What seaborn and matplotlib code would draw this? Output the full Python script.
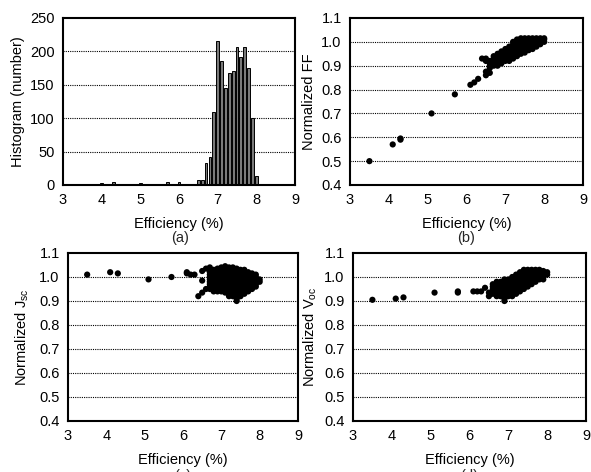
import matplotlib
matplotlib.use("Agg")
import matplotlib.pyplot as plt
import seaborn as sns
import numpy as np
import pandas as pd

# ---------------- data ----------------
hist_centers = [4.0, 4.3, 5.0, 5.7, 6.0, 6.1, 6.3, 6.5, 6.6, 6.7, 6.8, 6.9,
                7.0, 7.1, 7.2, 7.3, 7.4, 7.5, 7.6, 7.7, 7.8, 7.9, 8.0]
hist_counts = [3, 4, 3, 4, 4, 2, 2, 7, 8, 33, 42, 110,
               216, 186, 145, 168, 171, 207, 191, 207, 175, 100, 14]

ff_out_x = [3.5, 4.1, 4.3, 4.3, 5.1, 5.7, 6.1, 6.2, 6.3, 6.4, 6.5, 6.5, 6.5, 6.5, 6.6]
ff_out_y = [0.50, 0.57, 0.595, 0.59, 0.70, 0.78, 0.82, 0.83, 0.845, 0.93, 0.92, 0.86, 0.875, 0.93, 0.87]
ff_cluster = [
    (6.6, [0.89, 0.90, 0.91, 0.92]),
    (6.7, [0.90, 0.91, 0.92, 0.93, 0.94]),
    (6.8, [0.90, 0.91, 0.92, 0.93, 0.94, 0.95]),
    (6.9, [0.91, 0.92, 0.93, 0.94, 0.95, 0.96]),
    (7.0, [0.92, 0.93, 0.94, 0.95, 0.96, 0.97]),
    (7.1, [0.92, 0.93, 0.94, 0.95, 0.96, 0.97, 0.98]),
    (7.2, [0.93, 0.94, 0.95, 0.96, 0.97, 0.98, 0.99, 1.00]),
    (7.3, [0.94, 0.95, 0.96, 0.97, 0.98, 0.99, 1.00, 1.01]),
    (7.4, [0.95, 0.96, 0.97, 0.98, 0.99, 1.00, 1.01, 1.015]),
    (7.5, [0.955, 0.965, 0.975, 0.985, 0.995, 1.005, 1.015]),
    (7.6, [0.965, 0.975, 0.985, 0.995, 1.005, 1.015]),
    (7.7, [0.97, 0.98, 0.99, 1.00, 1.01, 1.015]),
    (7.8, [0.98, 0.99, 1.00, 1.01, 1.015]),
    (7.9, [0.99, 1.00, 1.01, 1.015]),
    (8.0, [1.00, 1.01, 1.015]),
]

jsc_out_x = [3.5, 4.1, 4.3, 5.1, 5.7, 6.1, 6.1, 6.2, 6.3, 6.4, 6.5, 6.5, 6.5, 6.6, 6.7, 6.6]
jsc_out_y = [1.01, 1.02, 1.015, 0.99, 1.0, 1.02, 1.015, 1.01, 1.01, 0.92, 0.985, 1.025, 0.935, 1.035, 1.04, 0.95]
jsc_cluster = [
    (6.7, [0.95, 0.96, 0.97, 0.98, 0.99, 1.00, 1.01, 1.02]),
    (6.8, [0.94, 0.95, 0.96, 0.97, 0.98, 0.99, 1.00, 1.01, 1.02, 1.03]),
    (6.9, [0.94, 0.95, 0.96, 0.97, 0.98, 0.99, 1.00, 1.01, 1.02, 1.035]),
    (7.0, [0.94, 0.95, 0.96, 0.97, 0.98, 0.99, 1.00, 1.01, 1.02, 1.03, 1.04]),
    (7.1, [0.935, 0.95, 0.96, 0.97, 0.98, 0.99, 1.00, 1.01, 1.02, 1.03, 1.045]),
    (7.2, [0.92, 0.93, 0.94, 0.95, 0.96, 0.97, 0.98, 0.99, 1.00, 1.01, 1.02, 1.03, 1.04]),
    (7.3, [0.92, 0.93, 0.94, 0.95, 0.96, 0.97, 0.98, 0.99, 1.00, 1.01, 1.02, 1.03, 1.04]),
    (7.4, [0.90, 0.91, 0.92, 0.93, 0.94, 0.95, 0.96, 0.97, 0.98, 0.99, 1.00, 1.01, 1.02, 1.035]),
    (7.5, [0.92, 0.93, 0.94, 0.95, 0.96, 0.97, 0.98, 0.99, 1.00, 1.01, 1.02, 1.03]),
    (7.6, [0.93, 0.94, 0.95, 0.96, 0.97, 0.98, 0.99, 1.00, 1.01, 1.02, 1.03]),
    (7.7, [0.94, 0.95, 0.96, 0.97, 0.98, 0.99, 1.00, 1.01, 1.02]),
    (7.8, [0.95, 0.96, 0.97, 0.98, 0.99, 1.00, 1.01, 1.015]),
    (7.9, [0.96, 0.97, 0.98, 0.99, 1.00, 1.01]),
    (8.0, [0.98, 0.99]),
]

voc_out_x = [3.5, 4.1, 4.3, 5.1, 5.7, 5.7, 6.1, 6.2, 6.3, 6.4, 6.5, 6.5]
voc_out_y = [0.905, 0.91, 0.915, 0.935, 0.935, 0.94, 0.94, 0.94, 0.94, 0.955, 0.92, 0.935]
voc_cluster = [
    (6.6, [0.93, 0.94, 0.95, 0.96, 0.97]),
    (6.7, [0.92, 0.93, 0.94, 0.95, 0.96, 0.97, 0.98]),
    (6.8, [0.92, 0.93, 0.94, 0.95, 0.96, 0.97, 0.98]),
    (6.9, [0.90, 0.91, 0.92, 0.93, 0.94, 0.95, 0.96, 0.97, 0.98, 0.99]),
    (7.0, [0.92, 0.93, 0.94, 0.95, 0.96, 0.97, 0.98, 0.99]),
    (7.1, [0.92, 0.93, 0.94, 0.95, 0.96, 0.97, 0.98, 0.99, 1.00]),
    (7.2, [0.93, 0.94, 0.95, 0.96, 0.97, 0.98, 0.99, 1.00, 1.01]),
    (7.3, [0.94, 0.95, 0.96, 0.97, 0.98, 0.99, 1.00, 1.01, 1.02]),
    (7.4, [0.95, 0.96, 0.97, 0.98, 0.99, 1.00, 1.01, 1.02, 1.03]),
    (7.5, [0.96, 0.97, 0.98, 0.99, 1.00, 1.01, 1.02, 1.03]),
    (7.6, [0.97, 0.98, 0.99, 1.00, 1.01, 1.02, 1.03]),
    (7.7, [0.98, 0.99, 1.00, 1.01, 1.02, 1.03]),
    (7.8, [0.99, 1.00, 1.01, 1.02, 1.03]),
    (7.9, [0.99, 1.00, 1.01, 1.02, 1.025]),
    (8.0, [1.01, 1.02]),
]

x_ticks = [3, 4, 5, 6, 7, 8, 9]
hist_yticks = [0, 50, 100, 150, 200, 250]
norm_yticks = [0.4, 0.5, 0.6, 0.7, 0.8, 0.9, 1.0, 1.1]


def to_frame(out_x, out_y, cluster):
    xs = list(out_x)
    ys = list(out_y)
    for cx, col in cluster:
        for cy in col:
            xs.append(cx)
            ys.append(cy)
    return pd.DataFrame({"eff": xs, "val": ys})


# ---------------- style ----------------
sns.set_theme(style="white")
plt.rcParams["font.family"] = ["Liberation Sans", "DejaVu Sans"]
plt.rcParams["mathtext.fontset"] = "custom"
plt.rcParams["mathtext.rm"] = "Liberation Sans"
plt.rcParams["mathtext.it"] = "Liberation Sans"
plt.rcParams["mathtext.default"] = "regular"

fig = plt.figure(figsize=(5.91, 4.72), dpi=100)
W, H = 591.0, 472.0


def make_ax(l, r, t, b):
    return fig.add_axes([l / W, 1 - b / H, (r - l) / W, (b - t) / H])


ax_a = make_ax(63, 295, 18, 185)
ax_b = make_ax(350, 583, 18, 185)
ax_c = make_ax(68, 298, 253, 421)
ax_d = make_ax(353, 586, 253, 421)


def style(ax, yticks, fmt):
    ax.set_xlim(3, 9)
    ax.set_xticks(x_ticks)
    ax.set_ylim(yticks[0], yticks[-1])
    ax.set_yticks(yticks)
    ax.set_yticklabels([fmt.format(v) for v in yticks])
    for v in yticks[1:-1]:
        ax.axhline(v, color="black", lw=0.8, ls=(0, (1, 1)), zorder=0)
    for s in ax.spines.values():
        s.set_visible(True)
        s.set_color("black")
        s.set_linewidth(1.5)
    ax.tick_params(axis="both", length=0, labelsize=10.5, colors="black", pad=6)
    ax.set_xlabel("Efficiency (%)", fontsize=10.5, color="black", labelpad=7)


# (a) histogram
hist_df = pd.DataFrame({"eff": hist_centers, "count": hist_counts})
sns.histplot(data=hist_df, x="eff", weights="count",
             binwidth=0.1, binrange=(3.95, 8.05), shrink=0.72,
             color="#7a7a7a", edgecolor="black", linewidth=0.7, alpha=1,
             ax=ax_a, zorder=2)
style(ax_a, hist_yticks, "{:d}")
ax_a.set_ylabel("Histogram (number)", fontsize=10.5, color="black")

# scatter panels
panels = [
    (ax_b, to_frame(ff_out_x, ff_out_y, ff_cluster), "Normalized FF"),
    (ax_c, to_frame(jsc_out_x, jsc_out_y, jsc_cluster), "Normalized J$_{sc}$"),
    (ax_d, to_frame(voc_out_x, voc_out_y, voc_cluster), "Normalized V$_{oc}$"),
]
for ax, df, lab in panels:
    sns.scatterplot(data=df, x="eff", y="val", color="black", s=20,
                    edgecolor="none", linewidth=0, ax=ax, zorder=3)
    style(ax, norm_yticks, "{:.1f}")
    ax.set_ylabel(lab, fontsize=10.5, color="black")

ax_a.yaxis.set_label_coords((25 - 63) / 232, 0.5)
ax_b.yaxis.set_label_coords((316 - 350) / 233, 0.5)
ax_c.yaxis.set_label_coords((31 - 68) / 230, 0.5)
ax_d.yaxis.set_label_coords((319 - 353) / 233, 0.5)

# panel letters
fig.text(180 / W, 1 - 238 / H, "(a)", ha="center", va="center", fontsize=10.5)
fig.text(466 / W, 1 - 238 / H, "(b)", ha="center", va="center", fontsize=10.5)
fig.text(183 / W, 1 - 476 / H, "(c)", ha="center", va="center", fontsize=10.5)
fig.text(469 / W, 1 - 476 / H, "(d)", ha="center", va="center", fontsize=10.5)

fig.savefig("out.png", dpi=100)
